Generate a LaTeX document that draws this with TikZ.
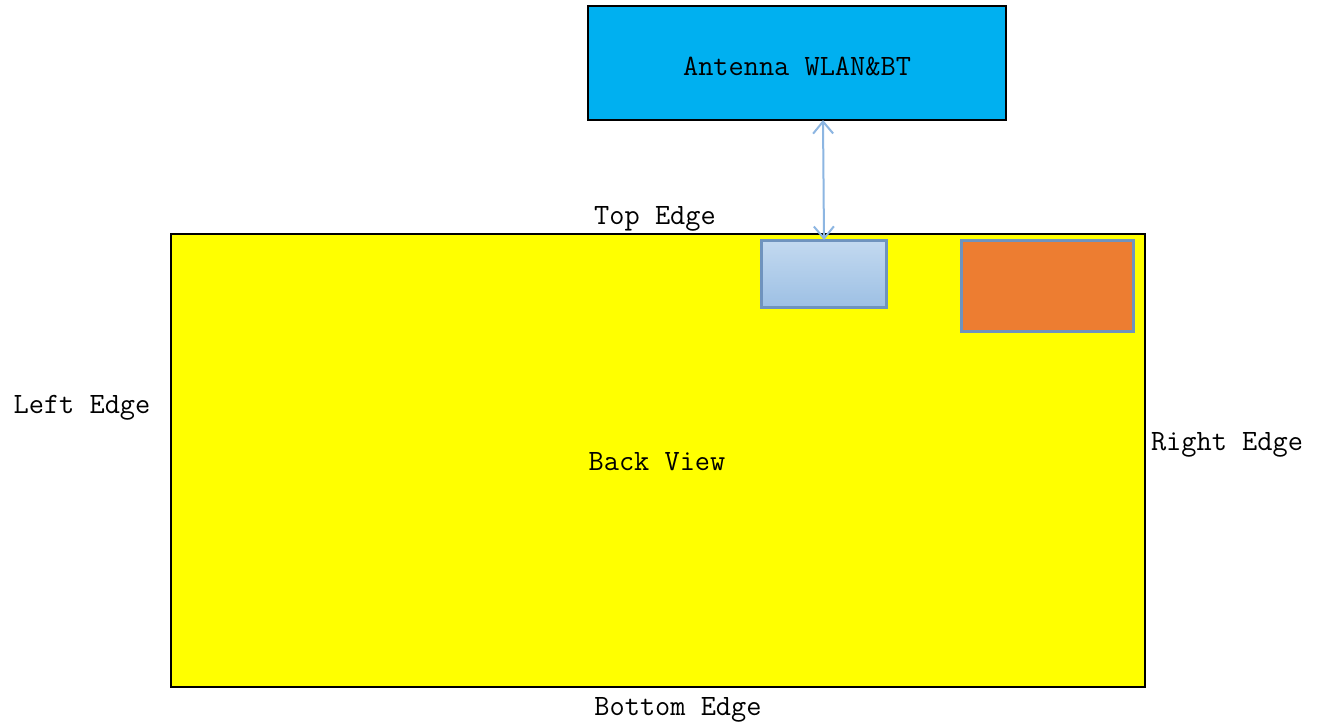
\documentclass[tikz,border=0pt]{standalone}
\usepackage{fontspec}
\usetikzlibrary{arrows.meta}
\definecolor{antblue}{HTML}{00B0F0}
\definecolor{boardyellow}{HTML}{FFFF00}
\definecolor{orangebox}{HTML}{ED7D31}
\definecolor{steel}{HTML}{6F93BE}
\definecolor{lbtop}{HTML}{C3D9F0}
\definecolor{lbbot}{HTML}{9DC0E4}
\definecolor{arrowblue}{HTML}{8DB6E2}
\tikzset{
  lbl/.style={font=\ttfamily\fontsize{29.5}{34}\selectfont, text=black, inner sep=0pt},
}
\begin{document}
\begin{tikzpicture}[x=1pt,y=-1pt]
\useasboundingbox (0,0) rectangle (1322,726);
\fill[white] (0,0) rectangle (1322,726);
% antenna
\draw[black, line width=1.2pt, fill=antblue] (588,6) rectangle (1006,120);
\node[lbl] (ant) at (797,66) {Antenna WLAN\&BT};
\coordinate (antb) at (823,120);
% board
\draw[black, line width=1.5pt, fill=boardyellow] (171,234) rectangle (1145,687);
\node[lbl] (back) at (657,462) {Back View};
% light blue module
\shade[top color=lbtop, bottom color=lbbot] (761,240) rectangle (886,307);
\draw[steel, line width=3pt] (761,240) rectangle (886,307);
\coordinate (modt) at (824,240);
% orange module
\draw[steel, line width=3pt, fill=orangebox] (961,240) rectangle (1133,331);
% arrow
\draw[arrowblue, line width=2pt, {Straight Barb[length=12pt,width=20pt,line width=2pt]}-{Straight Barb[length=12pt,width=20pt,line width=2pt]}] (antb) -- (modt);
% labels
\node[lbl] (top) at (655,219) {Top Edge};
\node[lbl] (left) at (82,408) {Left Edge};
\node[lbl] (right) at (1227,445) {Right Edge};
\node[lbl] (bottom) at (678,710) {Bottom Edge};
\end{tikzpicture}
\end{document}
